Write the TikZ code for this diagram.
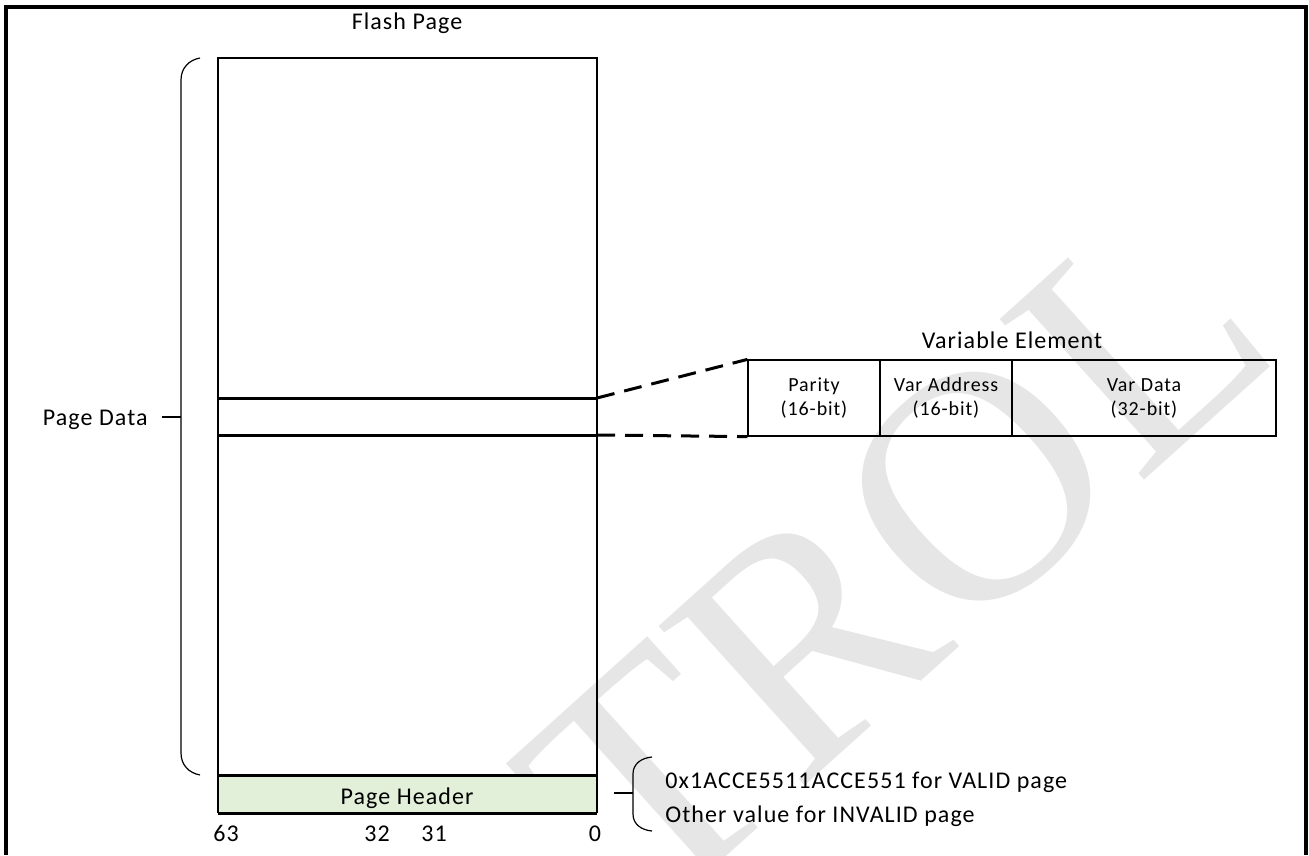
\documentclass[tikz,border=0pt]{standalone}
\usepackage{fontspec}
\setmainfont{Carlito}[LetterSpace=4.5]
\newfontfamily\markfont{Liberation Serif}
\definecolor{hdrgreen}{HTML}{E2EFD9}
\definecolor{markgray}{HTML}{E6E6E6}

\begin{document}
\begin{tikzpicture}[x=0.5pt,y=-0.5pt,
  lbl/.style={inner sep=0pt, font=\fontsize{12}{14}\selectfont},
  cellbox/.style={draw, line width=0.6pt, minimum height=38pt, inner sep=0pt,
                  align=center, font=\fontsize{10}{12}\selectfont},
  thinline/.style={line width=0.6pt},
  thickrule/.style={line width=1.5pt},
  dashrule/.style={line width=1.5pt, dash pattern=on 9pt off 5pt},
  bracket/.style={line width=0.6pt}]
\useasboundingbox (0,0) rectangle (1309,855);

% faint watermark lettering
\begin{scope}
  \clip (0,0) rectangle (1309,855);
  \node[text=markgray, inner sep=0pt, rotate=42,
        font=\markfont\fontsize{165}{165}\selectfont] (mark) at (895,560) {TROL};
\end{scope}

% outer frame
\draw[line width=1.6pt] (6,855) -- (6,7) -- (1306,7) -- (1306,855);

% flash page body
\coordinate (pTL) at (218,58);
\coordinate (pTR) at (597,58);
\coordinate (pHL) at (218,775);
\coordinate (pHR) at (597,775);
\coordinate (pBL) at (218,813);
\coordinate (pBR) at (597,813);
\draw[thinline] (pHL) -- (pTL) -- (pTR) -- (pHR);
\node[lbl, anchor=base] (flash) at (407,30) {Flash Page};

% page header
\fill[hdrgreen] (pHL) rectangle (pBR);
\draw[thinline] (pHL) -- (pBL) (pHR) -- (pBR);
\draw[thickrule] (pHL) -- (pHR);
\draw[thickrule] (pBL) -- (pBR);
\node[lbl, anchor=base] (hdr) at (407,804) {Page Header};

% bit numbers
\node[lbl, anchor=base] (b63) at (226,841) {63};
\node[lbl, anchor=base] (b32) at (377,841) {32};
\node[lbl, anchor=base] (b31) at (434,841) {31};
\node[lbl, anchor=base] (b0)  at (595,841) {0};

% one record inside the page
\coordinate (rTL) at (218,398);
\coordinate (rTR) at (597,398);
\coordinate (rBL) at (218,435);
\coordinate (rBR) at (597,435);
\draw[thickrule] (rTL) -- (rTR);
\draw[thickrule] (rBL) -- (rBR);

% page data bracket
\coordinate (lbTop) at (200,58);
\coordinate (lbBot) at (200,775);
\coordinate (lbMid) at (181,417);
\coordinate (lbTip) at (162,417);
\draw[bracket] (lbTop) .. controls (189,60) and (181,68) .. (181,80)
  -- (181,753) .. controls (181,765) and (189,773) .. (lbBot);
\draw[line width=1pt] (lbMid) -- (lbTip);
\node[lbl, anchor=base east] (pdata) at (148,425) {Page Data};

% variable element layout
\node[cellbox, minimum width=66pt] (parity) at (814,398) {Parity\\(16-bit)};
\node[cellbox, minimum width=66pt] (vaddr) at (946,398) {Var Address\\(16-bit)};
\node[cellbox, minimum width=132pt] (vdata) at (1144,398) {Var Data\\(32-bit)};
\node[lbl, anchor=base] (vtitle) at (1012,348) {Variable Element};
\draw[dashrule] (rTR) -- (parity.north west);
\draw[dashrule] (rBR) -- (parity.south west);

% header value bracket
\coordinate (rbTop) at (652,757);
\coordinate (rbBot) at (652,831);
\coordinate (rbMid) at (633,793);
\coordinate (rbTip) at (614,793);
\draw[bracket] (rbTop) .. controls (641,758) and (633,764) .. (633,774)
  -- (633,814) .. controls (633,824) and (641,830) .. (rbBot);
\draw[line width=0.8pt] (rbMid) -- (rbTip);
\node[lbl, anchor=base west] (valid) at (665,788) {0x1ACCE5511ACCE551 for VALID page};
\node[lbl, anchor=base west] (invalid) at (665,822) {Other value for INVALID page};
\end{tikzpicture}
\end{document}
